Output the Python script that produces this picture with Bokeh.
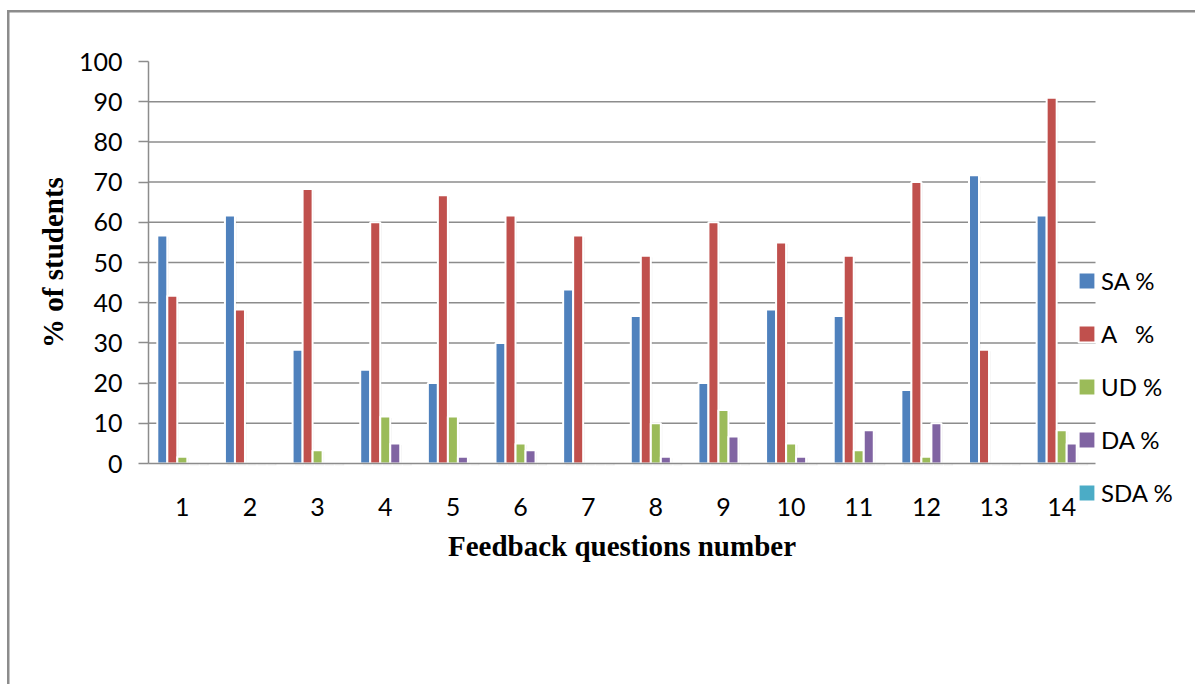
import math
from bokeh.plotting import figure
from bokeh.models import ColumnDataSource, FixedTicker, Legend, LegendItem, Label
from bokeh.embed import file_html
from bokeh.resources import INLINE

# Feedback questions and share of students per response (%)
questions = [1, 2, 3, 4, 5, 6, 7, 8, 9, 10, 11, 12, 13, 14]
sa_pct = [56.7, 61.7, 28.3, 23.3, 20.0, 30.0, 43.3, 36.7, 20.0, 38.3, 36.7, 18.3, 71.7, 61.7]
a_pct = [41.7, 38.3, 68.3, 60.0, 66.7, 61.7, 56.7, 51.7, 60.0, 55.0, 51.7, 70.0, 28.3, 91.0]
ud_pct = [1.7, 0.0, 3.3, 11.7, 11.7, 5.0, 0.0, 10.0, 13.3, 5.0, 3.3, 1.7, 0.0, 8.3]
da_pct = [0.0, 0.0, 0.0, 5.0, 1.7, 3.3, 0.0, 1.7, 6.7, 1.7, 8.3, 10.0, 0.0, 5.0]
sda_pct = [0.0, 0.0, 0.0, 0.0, 0.0, 0.0, 0.0, 0.0, 0.0, 0.0, 0.0, 0.0, 0.0, 0.0]

series_labels = ["SA %", "A   %", "UD %", "DA %", "SDA %"]
series_values = [sa_pct, a_pct, ud_pct, da_pct, sda_pct]
series_colors = ["#4F81BD", "#C0504D", "#9BBB59", "#8064A2", "#4BACC6"]
y_ticks = [0, 10, 20, 30, 40, 50, 60, 70, 80, 90, 100]

W, H = 1195, 684
# pixel box of the bar area: questions 0.5..14.5 across, 0..100 % up
AX_L, AX_R, AX_T, AX_B = 148, 1095, 61, 463
px_per_x = (AX_R - AX_L) / 14.0
px_per_y = (AX_B - AX_T) / 100.0


def to_x(px):
    return 0.5 + (px - AX_L) / px_per_x


def to_y(py):
    return (AX_B - py) / px_per_y


GRID = "#8c8c8c"

# the frame spans the whole page; axes are pinned to the bar area
p = figure(width=W, height=H, x_range=(to_x(0), to_x(W)), y_range=(to_y(H), to_y(0)),
           output_backend="svg", toolbar_location=None,
           min_border_left=0, min_border_right=0, min_border_top=0, min_border_bottom=0)
p.outline_line_color = None
p.background_fill_alpha = 0
p.border_fill_alpha = 0
# white page with the chart-area frame lines on the left and top
p.styles = {
    "background": (
        f"linear-gradient({GRID}, {GRID}) 7px 10px / 2.5px 100% no-repeat, "
        f"linear-gradient({GRID}, {GRID}) 7px 10px / 100% 2.5px no-repeat, white"
    )
}

p.xgrid.grid_line_color = None
p.ygrid.grid_line_color = None
# horizontal gridlines limited to the bar area
grid_vals = y_ticks[1:-1]
p.segment(x0=[0.5] * len(grid_vals), x1=[14.5] * len(grid_vals),
          y0=grid_vals, y1=grid_vals, line_color=GRID, line_width=1.5)

# Y axis along x = 0.5
p.yaxis.fixed_location = 0.5
p.yaxis.bounds = (0, 100)
p.yaxis.ticker = FixedTicker(ticks=y_ticks)
p.yaxis.axis_line_color = GRID
p.yaxis.axis_line_width = 1.5
p.yaxis.major_tick_line_color = GRID
p.yaxis.major_tick_line_width = 1.5
p.yaxis.major_tick_out = 10
p.yaxis.major_tick_in = 0
p.yaxis.minor_tick_line_color = None
p.yaxis.major_label_standoff = 16
p.yaxis.major_label_text_font = "Lato"
p.yaxis.major_label_text_font_size = "25px"
p.yaxis.major_label_text_color = "black"

# X axis along y = 0
p.xaxis.fixed_location = 0
p.xaxis.bounds = (0.5, 14.5)
p.xaxis.ticker = FixedTicker(ticks=questions)
p.xaxis.axis_line_color = GRID
p.xaxis.axis_line_width = 1.5
p.xaxis.major_tick_line_color = None
p.xaxis.minor_tick_line_color = None
p.xaxis.major_label_standoff = 28
p.xaxis.major_label_text_font = "Lato"
p.xaxis.major_label_text_font_size = "25px"
p.xaxis.major_label_text_color = "black"

# Axis titles
title_style = dict(text_font="Liberation Serif", text_font_style="bold",
                   text_font_size="29px", text_color="black",
                   text_align="center", text_baseline="middle")
p.add_layout(Label(x=7.5, y=to_y(545), text="Feedback questions number", **title_style))
p.add_layout(Label(x=to_x(52), y=50, text="% of students", angle=math.pi / 2,
                   **title_style))

# Clustered bars: five series side by side around each question
pitch = 0.148
items = []
for i, (label, vals, color) in enumerate(zip(series_labels, series_values, series_colors)):
    offset = (i - 2) * pitch
    xs = [q + offset for q in questions]
    src = ColumnDataSource(data=dict(x=xs, top=vals))
    # soft drop shadow behind each bar
    shadow_src = ColumnDataSource(data=dict(x=[v + 0.03 for v in xs],
                                            top=[max(t - 0.4, 0) for t in vals]))
    p.vbar(x="x", top="top", bottom=-0.5, width=pitch * 0.9, source=shadow_src,
           fill_color="black", fill_alpha=0.06, line_color=None)
    r = p.vbar(x="x", top="top", bottom=0, width=pitch, source=src,
               fill_color=color, line_color="white", line_width=2)
    items.append(LegendItem(label=label, renderers=[r]))

legend = Legend(items=items, location=(1076, H - 507),
                orientation="vertical",
                glyph_width=21, glyph_height=21, label_height=27,
                label_standoff=4, spacing=24, padding=0, margin=0,
                label_text_font="Lato", label_text_font_size="24px",
                label_text_color="black", border_line_color=None,
                background_fill_alpha=0)
p.add_layout(legend, "center")

open("out.html", "w").write(file_html(p, INLINE))
